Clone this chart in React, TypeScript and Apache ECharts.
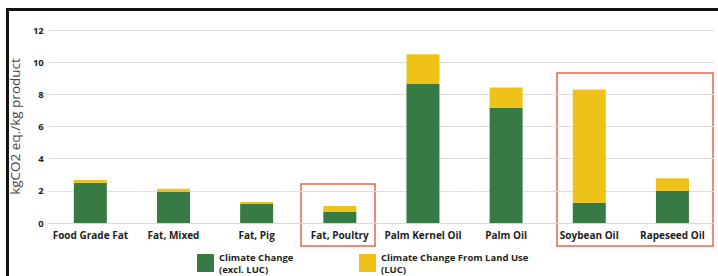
import React, { useEffect, useRef } from "react";
import * as echarts from "echarts";

const categories = [
  "Food Grade Fat",
  "Fat, Mixed",
  "Fat, Pig",
  "Fat, Poultry",
  "Palm Kernel Oil",
  "Palm Oil",
  "Soybean Oil",
  "Rapeseed Oil",
];
const climateExclLUC = [2.5, 1.93, 1.18, 0.68, 8.68, 7.16, 1.26, 2.0];
const climateLUC = [0.17, 0.2, 0.12, 0.37, 1.82, 1.27, 7.04, 0.78];
const yTicks = { min: 0, max: 12, interval: 2 };
const seriesNames = ["Climate Change\n(excl. LUC)", "Climate Change From Land Use\n(LUC)"];

const GREEN = "#377a44";
const YELLOW = "#efc21a";
const RED = "#e8664a";
const FONT = "'Open Sans', 'DejaVu Sans', sans-serif";

const legendText = {
  color: "#1e1e1e",
  fontWeight: "bold",
  fontSize: 9.5,
  lineHeight: 12,
  fontFamily: FONT,
};

export default function App() {
  const ref = useRef<HTMLDivElement>(null);
  useEffect(() => {
    document.body.style.margin = "0";
    const chart = echarts.init(ref.current!, null, { renderer: "svg" });
    chart.setOption({
      animation: false,
      backgroundColor: "#ffffff",
      textStyle: { fontFamily: FONT },
      grid: { left: 43, right: 4, top: 30, bottom: 53 },
      xAxis: {
        type: "category",
        data: categories,
        axisTick: { show: false },
        axisLine: { lineStyle: { color: "#d9d9d9" } },
        axisLabel: {
          color: "#1e1e1e",
          fontWeight: "bold",
          fontSize: 10,
          margin: 7,
          interval: 0,
          fontFamily: FONT,
        },
      },
      yAxis: {
        type: "value",
        min: yTicks.min,
        max: yTicks.max,
        interval: yTicks.interval,
        name: "kgCO2 eq./kg product",
        nameLocation: "middle",
        nameRotate: 90,
        nameGap: 26,
        nameTextStyle: { color: "#444", fontSize: 13.5, fontFamily: FONT },
        axisLabel: { color: "#1e1e1e", fontWeight: "bold", fontSize: 9.5, margin: 5, fontFamily: FONT },
        splitLine: { lineStyle: { color: "#dedede" } },
      },
      legend: [
        {
          data: [seriesNames[0]],
          left: 197,
          top: 251,
          itemWidth: 17,
          itemHeight: 18,
          itemGap: 0,
          icon: "rect",
          textStyle: legendText,
          padding: 0,
        },
        {
          data: [seriesNames[1]],
          left: 359,
          top: 251,
          itemWidth: 17,
          itemHeight: 18,
          itemGap: 0,
          icon: "rect",
          textStyle: legendText,
          padding: 0,
        },
      ],
      series: [
        {
          name: seriesNames[0],
          type: "bar",
          stack: "total",
          data: climateExclLUC,
          barWidth: 33,
          itemStyle: { color: GREEN },
        },
        {
          name: seriesNames[1],
          type: "bar",
          stack: "total",
          data: climateLUC,
          barWidth: 33,
          itemStyle: { color: YELLOW },
        },
      ],
      graphic: [
        { type: "line", shape: { x1: 6, y1: 9.5, x2: 718, y2: 9.5 }, style: { stroke: "#111", lineWidth: 3 } },
        { type: "line", shape: { x1: 7.5, y1: 8, x2: 7.5, y2: 276 }, style: { stroke: "#111", lineWidth: 3 } },
        { type: "rect", shape: { x: 301, y: 184, width: 74, height: 62 }, style: { fill: "none", stroke: RED, lineWidth: 1.5 } },
        { type: "rect", shape: { x: 557, y: 73, width: 156, height: 173 }, style: { fill: "none", stroke: RED, lineWidth: 1.5 } },
      ],
    });
    return () => chart.dispose();
  }, []);
  return <div ref={ref} style={{ width: 718, height: 276 }} />;
}
